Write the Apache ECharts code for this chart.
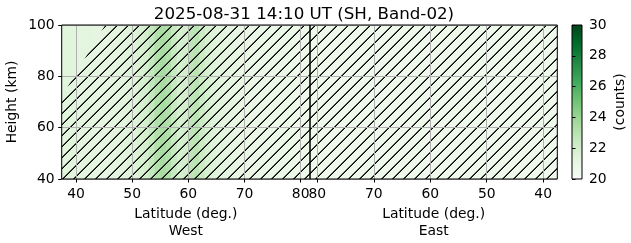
<!DOCTYPE html>
<html><head><meta charset="utf-8">
<script src="https://cdn.jsdelivr.net/npm/echarts@6/dist/echarts.min.js"></script>
<style>html,body{margin:0;padding:0;background:#fff}#c{width:631px;height:243px}</style>
</head><body><div id="c"></div>
<script>
const titleText = '2025-08-31 14:10 UT (SH, Band-02)';
const latTicks = [40, 50, 60, 70, 80];
const heightTicks = [40, 60, 80, 100];
const cbarTicks = [20, 22, 24, 26, 28, 30];
// 1-degree latitude cells: cell i spans [latEdges[i], latEdges[i]+1]
const latEdges = [37,38,39,40,41,42,43,44,45,46,47,48,49,50,51,52,53,54,55,56,57,58,59,60,61,62,63,64,65,66,67,68,69,70,71,72,73,74,75,76,77,78,79,80,81];
const heightRange = [40, 100];
const westValues = [21.4,21.4,21.4,21.3,21.3,21.3,21.2,21.2,21.2,21.3,21.3,21.4,21.5,21.6,21.8,22.0,22.6,23.2,23.5,23.2,22.5,21.9,22.1,22.8,22.9,22.3,21.8,21.5,21.4,21.3,21.2,21.1,21.0,21.0,20.9,20.9,20.9,20.8,20.8,20.8,20.8,20.7,20.7,20.7,20.7];
const eastValues = [20.6,20.6,20.6,20.6,20.6,20.6,20.6,20.6,20.6,20.6,20.6,20.6,20.6,20.6,20.6,20.6,20.6,20.6,20.6,20.6,20.6,20.6,20.6,20.6,20.6,20.6,20.6,20.6,20.6,20.6,20.6,20.6,20.6,20.6,20.6,20.6,20.6,20.6,20.6,20.6,20.6,20.6,20.6,20.6,20.6];
// hatched (masked) regions, [lat, height]
const westHatch = [[37.45,40],[81.66,40],[81.66,100],[45.2,100],[37.45,72]];
const eastHatch = [[37.5,40],[81.3,40],[81.3,100],[37.5,100]];
const greens = ['#f7fcf5','#e5f5e0','#c7e9c0','#a1d99b','#74c476','#41ab5d','#238b45','#006d2c','#00441b'];

const FONT = 'DejaVu Sans';
const FS = 13.9;

function cells(vals){
  return latEdges.map((l,i)=>[l, l+1, heightRange[0], heightRange[1], vals[i]]);
}
function cellItem(params, api){
  const p0 = api.coord([api.value(0), api.value(2)]);
  const p1 = api.coord([api.value(1), api.value(3)]);
  const x = Math.min(p0[0],p1[0]), y = Math.min(p0[1],p1[1]);
  return {type:'rect', shape:{x:x-0.3, y:y, width:Math.abs(p1[0]-p0[0])+0.6, height:Math.abs(p1[1]-p0[1])},
    style:{fill: api.visual('color')}};
}
// hatch pattern (aliased diagonal line, period 11px)
const S = 11;
const pc = document.createElement('canvas');
pc.width = S; pc.height = S;
const ctx = pc.getContext('2d');
const img = ctx.createImageData(S, S);
for (let y = 0; y < S; y++) for (let x = 0; x < S; x++) {
  const m = (x + y) % S;
  const i = (y * S + x) * 4;
  if (m === 9 || m === 10) { img.data[i]=0; img.data[i+1]=0; img.data[i+2]=0; img.data[i+3]= (m===10?255:170); }
}
ctx.putImageData(img, 0, 0);
const hatchFill = {image: pc, repeat: 'repeat'};
function hatchItem(poly){
  return function(params, api){
    if (params.dataIndex > 0) return;
    const pts = poly.map(p=>api.coord(p));
    return {type:'polygon', shape:{points: pts}, style:{fill: hatchFill, stroke: null}};
  };
}

const axisText = {color:'#000', fontFamily: FONT, fontSize: FS};
function xAxisCfg(idx, min, max, inverse, name){
  return {type:'value', gridIndex: idx, min, max, inverse, z: 5,
    name, nameLocation:'middle', nameGap: 27,
    nameTextStyle:{color:'#000', fontFamily: FONT, fontSize: FS, lineHeight: 17},
    axisLine:{show:false},
    axisTick:{show:true, inside:false, length:3.5, lineStyle:{color:'#000', width:1}, customValues: latTicks},
    axisLabel:{show:true, margin:8, customValues: latTicks, ...axisText},
    splitLine:{show:true, lineStyle:{color:'#b0b0b0', width:1, type:'solid'}}};
}
function yAxisCfg(idx, showLabels){
  return {type:'value', gridIndex: idx, min:40, max:100, interval:20, z:5,
    name: showLabels ? 'Height (km)' : '', nameLocation:'middle', nameGap: 42, nameRotate: 90,
    nameTextStyle:{color:'#000', fontFamily: FONT, fontSize: FS},
    axisLine:{show:false},
    axisTick:{show: showLabels, length:3.5, lineStyle:{color:'#000', width:1}},
    axisLabel:{show: showLabels, margin:7, ...axisText},
    splitLine:{show:true, lineStyle:{color:'#b0b0b0', width:1, type:'solid'}}};
}

const chart = echarts.init(document.getElementById('c'), null, {renderer:'canvas'});
chart.setOption({
  animation:false,
  backgroundColor:'#fff',
  title:{text: titleText, left: 299, top: 1, textAlign:'center',
    textStyle:{color:'#000', fontFamily: FONT, fontSize: 16.7, fontWeight:'normal'}},
  grid:[
    {left:61.7, top:25, width:248.3, height:154, outerBoundsMode:'none', containLabel:false, show:true, z:10, backgroundColor:'transparent', borderColor:'#000', borderWidth:1},
    {left:310, top:25, width:247.3, height:154, outerBoundsMode:'none', containLabel:false, show:true, z:10, backgroundColor:'transparent', borderColor:'#000', borderWidth:1},
    {left:572, top:25, width:10, height:154, outerBoundsMode:'none', containLabel:false, show:false}
  ],
  xAxis:[
    xAxisCfg(0, 37.45, 81.66, false, 'Latitude (deg.)\nWest'),
    xAxisCfg(1, 37.5, 81.3, true, 'Latitude (deg.)\nEast'),
    {type:'value', gridIndex:2, min:0, max:1, show:false}
  ],
  yAxis:[
    yAxisCfg(0, true),
    yAxisCfg(1, false),
    {type:'value', gridIndex:2, min:20, max:30, interval:2, position:'right', z:5,
      name:'(counts)', nameLocation:'middle', nameGap:31, nameRotate:90,
      nameTextStyle:{color:'#000', fontFamily: FONT, fontSize: FS},
      axisLine:{show:false},
      axisTick:{show:true, length:3.5, lineStyle:{color:'#000', width:1}},
      axisLabel:{show:true, margin:7, ...axisText},
      splitLine:{show:false}}
  ],
  visualMap:{show:false, type:'continuous', min:20, max:30, dimension:4, seriesIndex:[0,1], inRange:{color: greens}},
  series:[
    {type:'custom', xAxisIndex:0, yAxisIndex:0, clip:true, z:2, encode:{x:[0,1], y:[2,3]}, data: cells(westValues), renderItem: cellItem},
    {type:'custom', xAxisIndex:1, yAxisIndex:1, clip:true, z:2, encode:{x:[0,1], y:[2,3]}, data: cells(eastValues), renderItem: cellItem},
    {type:'custom', xAxisIndex:0, yAxisIndex:0, clip:true, z:3, silent:true, data: westHatch, renderItem: hatchItem(westHatch)},
    {type:'custom', xAxisIndex:1, yAxisIndex:1, clip:true, z:3, silent:true, data: eastHatch, renderItem: hatchItem(eastHatch)},
    {type:'custom', xAxisIndex:2, yAxisIndex:2, z:2, silent:true, data: [[0,20,1,30]],
      renderItem: function(params, api){
        const p0 = api.coord([0,20]), p1 = api.coord([1,30]);
        return {type:'rect', shape:{x:p0[0], y:p1[1], width:p1[0]-p0[0], height:p0[1]-p1[1]},
          style:{fill:{type:'linear', x:0, y:1, x2:0, y2:0, colorStops: greens.map((c,i)=>({offset:i/(greens.length-1), color:c}))},
            stroke:'#000', lineWidth:1}};
      }}
  ]
});
</script></body></html>
